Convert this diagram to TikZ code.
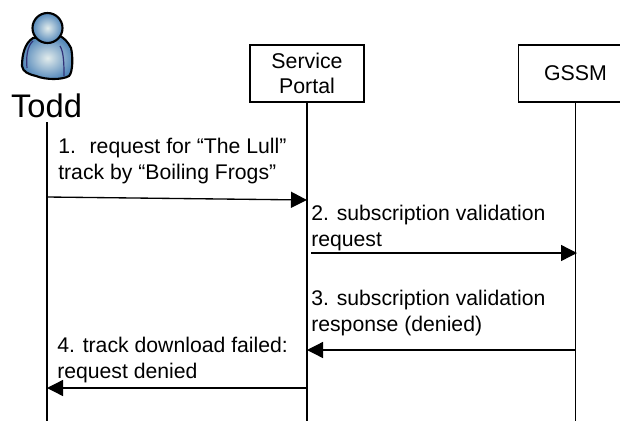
\documentclass[tikz,border=0pt]{standalone}
\usepackage{fontspec}
\setmainfont{Liberation Sans}
\usetikzlibrary{arrows.meta, positioning, calc}
\definecolor{iconblue}{RGB}{84,136,186}
\definecolor{iconglow}{RGB}{226,236,236}
\definecolor{iconline}{RGB}{50,50,120}
\tikzset{
  entity/.style={rectangle, draw=black, line width=1pt, fill=white, minimum height=42.75pt, font=\fontsize{16}{18.8}\selectfont, align=center},
  msg/.style={anchor=west, align=left, inner sep=0pt, font=\fontsize{15.9}{18.8}\selectfont},
  lifeline/.style={line width=1pt},
  arrow/.style={line width=1pt,-{Triangle[length=12pt,width=12pt]}},
  icon/.style={inner color=iconglow, outer color=iconblue, draw=black, line width=1.6pt}
}
\begin{document}
\begin{tikzpicture}[x=0.75pt, y=-0.75pt]
\useasboundingbox (0,0) rectangle (620,421);

% Person icon
\shade [icon]
  (33,38) .. controls (25,43) and (22,54) .. (22,66) .. controls (23,72) and (28,74) .. (36,76)
  .. controls (46,80) and (62,80) .. (69,76) .. controls (73,72) and (73,56) .. (71,48)
  .. controls (68,42) and (64,38) .. (60,36) -- cycle;
\draw [line width=0.9pt, iconline] (33,41) .. controls (27,46) and (26,58) .. (27,68);
\draw [line width=0.9pt, iconline] (60,46) .. controls (64,52) and (64,66) .. (64,76);
\shade [icon] (47.5,28) circle (15);

% Entities
\node (todd) at (46.5,106) [font=\fontsize{24.5}{28}\selectfont, inner sep=0pt] {Todd};
\node (portal) at (307,73.5) [entity, minimum width=85.5pt] {Service\\Portal};
\node (gssm) [entity, minimum width=85.5pt] at (575.5,73.5) {GSSM};

% Lifeline ends
\coordinate (toddtop) at (47,122);
\coordinate (toddend) at (47,421);
\coordinate (portalend) at (307,421);
\coordinate (gssmend) at (575.5,421);
\draw [lifeline] (toddtop) -- (toddend);
\draw [lifeline] (portal) -- (portalend);
\draw [lifeline] (gssm) -- (gssmend);

% Messages
\coordinate (m1a) at (47,197);
\coordinate (m1b) at (307,200);
\coordinate (m2a) at (311,253);
\coordinate (m2b) at (577,253);
\coordinate (m3a) at (575.5,350);
\coordinate (m3b) at (307,350);
\coordinate (m4a) at (307,388);
\coordinate (m4b) at (47,388);
\draw [arrow] (m1a) -- (m1b);
\draw [arrow] (m2a) -- (m2b);
\draw [arrow] (m3a) -- (m3b);
\draw [arrow] (m4a) -- (m4b);

% Labels
\node (l1) at (58,161) [msg] {1.~ request for “The Lull”\\track by “Boiling Frogs”};
\node (l2) at (311,228) [msg] {2. subscription validation\\request};
\node (l3) at (311,313) [msg] {3. subscription validation\\response (denied)};
\node (l4) at (57,360) [msg] {4. track download failed:\\request denied};

\end{tikzpicture}
\end{document}
